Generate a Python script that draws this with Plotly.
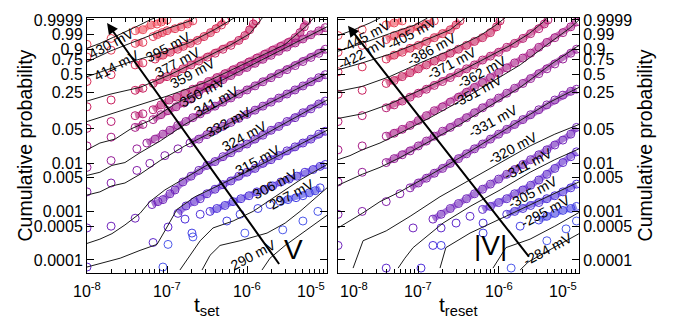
import numpy as np
import plotly.graph_objects as go

# ---------------- LEFT PANEL: t_set (s) vs cumulative probability ----------------
set_labels = ["430 mV", "414 mV", "395 mV", "377 mV", "359 mV", "350 mV", "341 mV",
              "332 mV", "324 mV", "315 mV", "306 mV", "297 mV", "290 mV"]

set430_t = [1e-8, 2e-8, 4e-8, 5e-8, 6.3e-8, 7.5e-8, 8.5e-8, 1e-7]
set430_p = [0.944, 0.978, 0.996, 0.9969, 0.9993, 0.9995, 0.99977, 0.9999]
set430_fit_t = [1e-8, 1.45e-8, 2.24e-8, 3.5e-8, 4.6e-8, 6.1e-8, 7e-8]
set430_fit_p = [0.908, 0.951, 0.9846, 0.9969, 0.9993, 0.9999, 0.99996]

set414_t = [1e-8, 2e-8, 4e-8, 5e-8, 6.7e-8, 7.6e-8, 8.7e-8, 1e-7, 1.26e-7, 1.5e-7, 1.8e-7, 2.1e-7]
set414_p = [0.792, 0.887, 0.951, 0.9575, 0.9846, 0.9898, 0.9935, 0.996, 0.9977, 0.9987, 0.9995, 0.99985]
set414_fit_t = [1e-8, 1.94e-8, 3.45e-8, 6.1e-8, 1.09e-7, 1.94e-7, 2.2e-7]
set414_fit_p = [0.712, 0.875, 0.951, 0.9875, 0.9983, 0.99985, 0.99996]

set395_t = [1e-8, 2e-8, 4e-8, 5e-8, 7.1e-8, 8.9e-8, 1.1e-7, 1.36e-7, 1.6e-7, 1.96e-7, 2.4e-7, 2.9e-7,
            3.5e-7, 4.1e-7, 4.8e-7, 5.3e-7]
set395_p = [0.388, 0.493, 0.661, 0.696, 0.761, 0.821, 0.862, 0.898, 0.927, 0.951, 0.969, 0.9846,
            0.9935, 0.9977, 0.9993, 0.99985]
set395_fit_t = [1e-8, 1.94e-8, 3.45e-8, 8.2e-8, 1.94e-7, 3.9e-7, 6.9e-7]
set395_fit_p = [0.462, 0.593, 0.712, 0.849, 0.9575, 0.9969, 0.99996]

set377_t = [1e-8, 2e-8, 4e-8, 5e-8, 6.7e-8, 8.1e-8, 1e-7, 1.26e-7, 1.58e-7, 2e-7, 2.5e-7, 3.2e-7,
            4e-7, 5e-7, 6.3e-7, 7.9e-7, 9.4e-7, 1.08e-6, 1.2e-6, 1.3e-6]
set377_p = [0.137, 0.184, 0.276, 0.299, 0.361, 0.417, 0.462, 0.526, 0.593, 0.661, 0.728, 0.792,
            0.849, 0.898, 0.936, 0.969, 0.9875, 0.9969, 0.9995, 0.99985]
set377_fit_t = [1e-8, 1.94e-8, 4.6e-8, 1.09e-7, 2.6e-7, 6.1e-7, 1.09e-6, 1.55e-6]
set377_fit_p = [0.176, 0.235, 0.31, 0.493, 0.745, 0.936, 0.9918, 0.99996]

set359_t = [1e-8, 2e-8, 4e-8, 5e-8, 6.7e-8, 8.4e-8, 1.06e-7, 1.33e-7, 1.67e-7, 2.1e-7, 2.65e-7, 3.3e-7,
            4.2e-7, 5.3e-7, 6.7e-7, 8.4e-7, 1.06e-6, 1.33e-6, 1.67e-6, 2.1e-6, 2.65e-6, 3.3e-6,
            4.0e-6, 4.6e-6, 5.2e-6, 5.6e-6]
set359_p = [0.0514, 0.0704, 0.092, 0.100, 0.120, 0.149, 0.184, 0.208, 0.245, 0.288, 0.335, 0.388,
            0.447, 0.51, 0.576, 0.644, 0.712, 0.777, 0.835, 0.887, 0.927, 0.9575,
            0.981, 0.9935, 0.9987, 0.99985]
set359_fit_t = [1e-8, 3.45e-8, 1e-7, 3e-7, 1e-6, 3e-6, 5.6e-6, 6.8e-6]
set359_fit_p = [0.0704, 0.131, 0.217, 0.374, 0.696, 0.944, 0.9991, 0.99996]

set350_t = [1e-8, 2e-8, 4e-8, 5e-8, 6.7e-8, 8.4e-8, 1.03e-7, 1.3e-7, 1.63e-7, 2e-7,
            2.5e-7, 3.16e-7, 3.98e-7, 5e-7, 6.3e-7, 7.9e-7, 1e-6, 1.26e-6, 1.58e-6, 2e-6,
            2.5e-6, 3.16e-6, 4e-6, 5e-6, 6.3e-6, 7.9e-6, 9.5e-6]
set350_p = [0.0226, 0.0341, 0.0537, 0.0615, 0.077, 0.096, 0.115, 0.137, 0.162, 0.192,
            0.259, 0.306, 0.357, 0.416, 0.479, 0.547, 0.617, 0.689, 0.757, 0.819,
            0.875, 0.92, 0.954, 0.976, 0.9893, 0.9958, 0.9983]
set350_fit_t = [1e-8, 1.45e-8, 2.24e-8, 3.45e-8, 6.1e-8, 1.26e-7, 2.6e-7, 5.3e-7, 1.09e-6, 2.24e-6, 4.6e-6, 1e-5]
set350_fit_p = [0.0188, 0.0259, 0.0311, 0.0491, 0.0737, 0.155, 0.265, 0.432, 0.644, 0.849, 0.969, 0.9987]

set341_t = [1e-8, 2e-8, 4.2e-8, 5.6e-8, 7.1e-8, 8.9e-8, 1.09e-7, 1.36e-7, 1.72e-7, 2.1e-7, 2.6e-7, 3.16e-7,
            3.98e-7, 5e-7, 6.3e-7, 7.9e-7, 1e-6, 1.26e-6, 1.58e-6, 2e-6, 2.5e-6, 3.16e-6, 4e-6,
            5e-6, 6.3e-6, 7.9e-6, 9.5e-6]
set341_p = [0.0082, 0.0113, 0.0197, 0.0259, 0.0311, 0.0392, 0.047, 0.0588, 0.0704, 0.084, 0.100, 0.120,
            0.141, 0.168, 0.201, 0.237, 0.280, 0.329, 0.384, 0.445, 0.51, 0.579, 0.65,
            0.72, 0.787, 0.847, 0.898]
set341_fit_t = [1e-8, 1.45e-8, 2.05e-8, 2.98e-8, 4.6e-8, 8.2e-8, 1.67e-7, 3.45e-7, 8.2e-7, 1.94e-6, 4.6e-6, 1e-5]
set341_fit_p = [0.0056, 0.0065, 0.009, 0.0103, 0.0164, 0.0284, 0.0615, 0.120, 0.245, 0.447, 0.712, 0.898]

set332_t = [1e-8, 2e-8, 4.2e-8, 6.1e-8, 9.4e-8, 1.37e-7, 1.94e-7, 2.5e-7,
            3.16e-7, 3.98e-7, 5e-7, 6.3e-7, 7.9e-7, 1e-6, 1.26e-6, 1.58e-6, 2e-6, 2.5e-6,
            3.16e-6, 3.98e-6, 5e-6, 6.3e-6, 7.9e-6, 9.5e-6]
set332_p = [0.00256, 0.0039, 0.0071, 0.0099, 0.0143, 0.0197, 0.0259, 0.0311,
            0.0384, 0.0465, 0.0562, 0.0675, 0.0813, 0.0975, 0.118, 0.141, 0.168, 0.20,
            0.237, 0.28, 0.328, 0.384, 0.445, 0.493]
set332_fit_t = [1e-8, 1.45e-8, 2.05e-8, 2.98e-8, 4.6e-8, 8.2e-8, 1.67e-7, 3.45e-7, 8.2e-7, 1.94e-6, 4.6e-6, 1e-5]
set332_fit_p = [0.0022, 0.00256, 0.0034, 0.0039, 0.0059, 0.0113, 0.0226, 0.0409, 0.084, 0.162, 0.31, 0.51]

set324_t = [1e-8, 2e-8, 4e-8, 6.5e-8, 7.7e-8, 8.9e-8, 1.09e-7, 1.26e-7, 1.58e-7, 2e-7, 2.5e-7, 3.16e-7,
            3.98e-7, 5e-7, 6.3e-7, 7.9e-7, 1e-6, 1.26e-6, 1.58e-6, 2e-6, 2.5e-6, 3.16e-6, 3.98e-6,
            5e-6, 6.3e-6, 7.9e-6, 9.5e-6]
set324_p = [0.00046, 0.0005, 0.00073, 0.0014, 0.00161, 0.00177, 0.00234, 0.0028, 0.0041, 0.0054, 0.0071,
            0.009, 0.0108, 0.0136, 0.0164, 0.0206, 0.0247, 0.0311, 0.0374, 0.047, 0.0562, 0.0704,
            0.084, 0.105, 0.125, 0.155, 0.176]
set324_fit_t = [1e-8, 1.45e-8, 2.05e-8, 2.98e-8, 4.6e-8, 6.1e-8, 9.4e-8, 1.67e-7, 3.45e-7, 8.2e-7, 1.94e-6, 4.6e-6, 1e-5]
set324_fit_p = [0.00022, 0.00027, 0.00035, 0.00053, 0.00092, 0.00161, 0.0028, 0.0049, 0.0099, 0.0206, 0.0449, 0.096, 0.184]

set315_t = [1e-8, 6.7e-8, 1.03e-7, 1.37e-7, 1.73e-7, 2.2e-7, 2.6e-7, 3.16e-7, 3.98e-7, 5e-7, 6.3e-7,
            7.9e-7, 1e-6, 1.26e-6, 1.58e-6, 2e-6, 2.5e-6, 3.16e-6, 3.98e-6, 5e-6, 6.3e-6, 7.9e-6, 9.5e-6]
set315_p = [0.0000715, 0.00023, 0.00048, 0.00092, 0.00131, 0.00161, 0.00185, 0.00234, 0.0029, 0.0036, 0.0043,
            0.0054, 0.0065, 0.0078, 0.0099, 0.0118, 0.0143, 0.0179, 0.0216, 0.0259, 0.0311, 0.0392, 0.0449]
set315_fit_t = [1e-8, 2.6e-8, 4.6e-8, 7.5e-8, 9.4e-8, 1.33e-7, 2.24e-7, 4.6e-7, 1.09e-6, 2.6e-6, 5.3e-6, 1e-5]
set315_fit_p = [0.0000715, 0.000109, 0.000158, 0.00021, 0.0004, 0.00111, 0.00203, 0.0036, 0.0071, 0.0149, 0.0271, 0.047]

set306_t = [1.68e-7, 2.6e-7, 3.45e-7, 4.2e-7, 5.3e-7, 6.7e-7, 8.4e-7, 1.06e-6, 1.33e-6, 1.67e-6, 2.1e-6,
            2.65e-6, 3.35e-6, 4.2e-6, 5.3e-6, 6.7e-6, 8.2e-6, 9.5e-6]
set306_p = [0.0007, 0.00088, 0.00101, 0.00116, 0.00134, 0.00161, 0.00185, 0.00213, 0.00256, 0.0029, 0.0034,
            0.0041, 0.0047, 0.0054, 0.0065, 0.0074, 0.0086, 0.0094]
set306_fit_t = [1.45e-7, 1.94e-7, 2.6e-7, 3.76e-7, 6.7e-7, 1.19e-6, 2.24e-6, 4.6e-6, 1e-5]
set306_fit_p = [0.000062, 0.000125, 0.00025, 0.00046, 0.00064, 0.00101, 0.00203, 0.0045, 0.0094]

set297_t = [2.05e-7, 5.6e-7, 8.2e-7, 1.37e-6, 1.94e-6, 2.6e-6, 3.25e-6, 4.1e-6, 5e-6, 6e-6, 7.1e-6, 8.2e-6]
set297_p = [0.00036, 0.00064, 0.00088, 0.00116, 0.0014, 0.00161, 0.00177, 0.00194, 0.00213, 0.00245, 0.0027, 0.0031]
set297_fit_t = [2.74e-7, 3.45e-7, 4.6e-7, 8.2e-7, 1.78e-6, 3e-6, 4.6e-6, 1e-5]
set297_fit_p = [0.000062, 0.000125, 0.0002, 0.00025, 0.00036, 0.00058, 0.00101, 0.0031]

set290_t = [8.9e-8, 1.03e-7, 2.11e-7, 9.4e-7, 2.8e-6, 5e-6, 7.7e-6]
set290_p = [0.0000715, 0.00021, 0.0003, 0.00036, 0.00042, 0.00064, 0.00101]
set290_fit_t = [1.54e-6, 1.94e-6, 3e-6, 5.3e-6, 1e-5]
set290_fit_p = [0.000062, 0.000109, 0.0002, 0.0004, 0.00084]

set_label_t = [2.05e-8, 2.37e-8, 1.03e-7, 1.37e-7, 2.11e-7, 2.74e-7, 4.2e-7, 5.8e-7, 9.4e-7, 1.37e-6,
               2.24e-6, 3.65e-6, 1.19e-6]
set_label_p = [0.951, 0.661, 0.918, 0.712, 0.526, 0.255, 0.176, 0.0704, 0.0357, 0.0118,
               0.0037, 0.00234, 0.000125]

# ---------------- RIGHT PANEL: t_reset (s) ----------------
reset_labels = ["-445 mV", "-422 mV", "-405 mV", "-386 mV", "-371 mV", "-362 mV", "-351 mV",
                "-331 mV", "-320 mV", "-311 mV", "-305 mV", "-295 mV", "-284 mV"]

reset445_t = [1e-8, 2e-8, 3.98e-8, 5e-8, 6.3e-8]
reset445_p = [0.9875, 0.9969, 0.9993, 0.99966, 0.99985]
reset445_fit_t = [1e-8, 1.58e-8, 2.5e-8, 3.35e-8]
reset445_fit_p = [0.9875, 0.9969, 0.99966, 0.99996]

reset422_t = [1e-8, 2e-8, 3.98e-8, 5e-8, 6.3e-8, 7.9e-8, 1e-7, 1.26e-7, 1.58e-7]
reset422_p = [0.862, 0.936, 0.9735, 0.9875, 0.9935, 0.9969, 0.9987, 0.9995, 0.99985]
reset422_fit_t = [1e-8, 2e-8, 4.4e-8, 9.1e-8, 1.3e-7]
reset422_fit_p = [0.875, 0.951, 0.9918, 0.9993, 0.99996]

reset405_t = [1e-8, 2e-8, 3.98e-8, 5e-8, 6.3e-8, 7.9e-8, 1e-7, 1.26e-7, 1.58e-7, 2e-7, 2.5e-7, 2.95e-7, 3.3e-7]
reset405_p = [0.543, 0.627, 0.761, 0.821, 0.862, 0.908, 0.936, 0.9635, 0.981, 0.9918, 0.9969, 0.9993, 0.99985]
reset405_fit_t = [1e-8, 2e-8, 4.4e-8, 1.05e-7, 2.5e-7, 3.8e-7]
reset405_fit_p = [0.576, 0.696, 0.835, 0.9575, 0.9969, 0.99996]

reset386_t = [1e-8, 2e-8, 3.98e-8, 5e-8, 6.3e-8, 7.9e-8, 1e-7, 1.26e-7, 1.58e-7, 2e-7, 2.5e-7, 3.16e-7,
              3.98e-7, 5e-7, 6.3e-7, 7.9e-7, 9.4e-7, 1.04e-6]
reset386_p = [0.235, 0.276, 0.361, 0.402, 0.462, 0.526, 0.593, 0.661, 0.728, 0.792, 0.849, 0.898,
              0.936, 0.9635, 0.981, 0.9935, 0.9987, 0.99985]
reset386_fit_t = [1e-8, 2e-8, 4.4e-8, 1.05e-7, 2.5e-7, 5.9e-7, 9e-7, 1.2e-6]
reset386_fit_p = [0.265, 0.322, 0.462, 0.696, 0.887, 0.9875, 0.9991, 0.99996]

reset371_t = [1e-8, 2e-8, 3.98e-8, 5e-8, 6.3e-8, 7.9e-8, 1e-7, 1.26e-7, 1.58e-7, 2e-7, 2.5e-7, 3.16e-7,
              3.98e-7, 5e-7, 6.3e-7, 7.9e-7, 1e-6, 1.26e-6, 1.58e-6, 2e-6, 2.5e-6, 3.16e-6, 3.7e-6, 4.1e-6]
reset371_p = [0.0704, 0.092, 0.131, 0.149, 0.176, 0.208, 0.245, 0.288, 0.335, 0.388, 0.447, 0.526,
              0.593, 0.661, 0.745, 0.807, 0.862, 0.918, 0.951, 0.978, 0.9918, 0.9977, 0.9995, 0.9999]
reset371_fit_t = [1e-8, 2e-8, 4.4e-8, 1.05e-7, 2.5e-7, 5.9e-7, 1.4e-6, 2.4e-6, 3.6e-6, 3.95e-6]
reset371_fit_p = [0.081, 0.100, 0.155, 0.276, 0.462, 0.728, 0.936, 0.9918, 0.99977, 0.99996]

reset362_t = [1e-8, 2e-8, 3.98e-8, 5e-8, 6.3e-8, 7.9e-8, 1e-7, 1.26e-7, 1.58e-7, 2e-7, 2.5e-7, 3.16e-7,
              3.98e-7, 5e-7, 6.3e-7, 7.9e-7, 1e-6, 1.26e-6, 1.58e-6, 2e-6, 2.5e-6, 3.16e-6, 3.98e-6,
              5e-6, 6.3e-6, 7.9e-6, 9.3e-6]
reset362_p = [0.0188, 0.0226, 0.0357, 0.0409, 0.0491, 0.0588, 0.0737, 0.092, 0.115, 0.137, 0.169, 0.208,
              0.255, 0.31, 0.374, 0.447, 0.526, 0.61, 0.696, 0.777, 0.849, 0.918, 0.9575,
              0.981, 0.9935, 0.9987, 0.99977]
reset362_fit_t = [1e-8, 1.41e-8, 2e-8, 3.33e-8, 5.9e-8, 1.4e-7, 3.3e-7, 7.8e-7, 1.85e-6, 4.37e-6, 7.8e-6, 1e-5]
reset362_fit_p = [0.0118, 0.0143, 0.0188, 0.0259, 0.0409, 0.084, 0.176, 0.361, 0.661, 0.9575, 0.9983, 0.9999]

reset351_t = [1e-8, 2e-8, 3.98e-8, 5e-8, 6.3e-8, 7.9e-8, 1e-7, 1.26e-7, 1.58e-7, 2e-7, 2.5e-7, 3.16e-7,
              3.98e-7, 5e-7, 6.3e-7, 7.9e-7, 1e-6, 1.26e-6, 1.58e-6, 2e-6, 2.5e-6, 3.16e-6, 3.98e-6,
              5e-6, 6.3e-6, 7.9e-6, 9.3e-6]
reset351_p = [0.0041, 0.0065, 0.0103, 0.0124, 0.0149, 0.0179, 0.0226, 0.0284, 0.0357, 0.0449, 0.0537, 0.0673,
              0.084, 0.105, 0.131, 0.162, 0.20, 0.245, 0.299, 0.361, 0.432, 0.51, 0.593,
              0.678, 0.761, 0.849, 0.898]
reset351_fit_t = [1e-8, 1.41e-8, 2e-8, 3.33e-8, 5.9e-8, 1.4e-7, 3.3e-7, 7.8e-7, 1.85e-6, 4.37e-6, 1e-5]
reset351_fit_p = [0.0035, 0.0045, 0.0059, 0.0082, 0.013, 0.0284, 0.0615, 0.143, 0.31, 0.661, 0.936]

reset331_t = [1e-8, 2e-8, 3.98e-8, 5.9e-8, 7.9e-8, 1e-7, 1.26e-7, 1.58e-7, 2e-7, 2.5e-7, 3.16e-7, 3.98e-7,
              5e-7, 6.3e-7, 7.9e-7, 1e-6, 1.26e-6, 1.58e-6, 2e-6, 2.5e-6, 3.16e-6, 3.98e-6, 5e-6,
              6.3e-6, 7.9e-6, 9.3e-6]
reset331_p = [0.00088, 0.00101, 0.00161, 0.00234, 0.0031, 0.0039, 0.0049, 0.0062, 0.0078, 0.0099, 0.0124, 0.0156,
              0.0197, 0.0247, 0.0311, 0.0392, 0.0491, 0.0615, 0.077, 0.096, 0.120, 0.149, 0.184,
              0.226, 0.265, 0.288]
reset331_fit_t = [1e-8, 1.41e-8, 2e-8, 3.33e-8, 5.9e-8, 1.4e-7, 3.3e-7, 7.8e-7, 1.85e-6, 4.37e-6, 1e-5]
reset331_fit_p = [0.00046, 0.00064, 0.00092, 0.00161, 0.00256, 0.0057, 0.013, 0.0311, 0.0737, 0.169, 0.31]

reset320_t = [1e-8, 8.6e-8, 1.52e-7, 1.92e-7, 2.5e-7, 3.16e-7, 3.98e-7, 5e-7, 6.3e-7, 7.9e-7, 1e-6,
              1.26e-6, 1.58e-6, 2e-6, 2.5e-6, 3.16e-6, 3.98e-6, 5e-6, 6.3e-6, 7.9e-6, 9.3e-6]
reset320_p = [0.0002, 0.00046, 0.0007, 0.00088, 0.00116, 0.00147, 0.00185, 0.00234, 0.0029, 0.0037, 0.0047,
              0.0059, 0.0074, 0.0094, 0.0118, 0.0149, 0.0188, 0.0236, 0.0297, 0.0392, 0.0537]
reset320_fit_t = [1.54e-8, 1.77e-8, 2.05e-8, 3.98e-8, 7.9e-8, 1.86e-7, 4.4e-7, 1.04e-6, 2.46e-6, 5e-6, 1e-5]
reset320_fit_p = [0.000068, 0.000125, 0.00025, 0.0004, 0.0008, 0.00203, 0.0045, 0.0103, 0.0226, 0.0392, 0.0615]

reset311_t = [3.98e-8, 1.92e-7, 2.95e-7, 4.4e-7, 6.3e-7, 7.9e-7, 1e-6, 1.26e-6, 1.58e-6, 2e-6, 2.5e-6,
              3.16e-6, 3.98e-6, 5e-6, 6.3e-6, 7.9e-6, 9.3e-6]
reset311_p = [0.000068, 0.00046, 0.00058, 0.0008, 0.00111, 0.00128, 0.00154, 0.00185, 0.00234, 0.0028, 0.0035,
              0.0045, 0.0059, 0.0078, 0.0103, 0.0136, 0.0171]
reset311_fit_t = [5.6e-8, 6.8e-8, 8.6e-8, 2.03e-7, 4.4e-7, 1.04e-6, 2.46e-6, 5e-6, 1e-5]
reset311_fit_p = [0.000068, 0.000109, 0.00018, 0.00058, 0.00128, 0.0028, 0.0065, 0.0118, 0.0197]

reset305_t = [1.08e-7, 1.52e-7, 6.4e-7, 1.26e-6, 1.58e-6, 2e-6, 2.5e-6, 3.16e-6, 3.98e-6, 5e-6, 6.3e-6,
              7.9e-6, 9.3e-6]
reset305_p = [0.000068, 0.0002, 0.00058, 0.00088, 0.00101, 0.00116, 0.00134, 0.00154, 0.00185, 0.00213, 0.00256,
              0.0031, 0.0037]
reset305_fit_t = [1.86e-7, 2.2e-7, 4.4e-7, 1.04e-6, 2.46e-6, 5e-6, 1e-5]
reset305_fit_p = [0.000068, 0.00018, 0.00036, 0.0007, 0.0014, 0.00234, 0.0041]

reset295_t = [1.92e-7, 6.4e-7, 1.85e-6, 3.16e-6, 3.98e-6, 5e-6, 6.3e-6, 7.9e-6, 9.3e-6]
reset295_p = [0.0002, 0.00036, 0.0005, 0.00067, 0.0008, 0.00092, 0.00106, 0.00116, 0.00128]
reset295_fit_t = [8.5e-7, 1.23e-6, 2.46e-6, 5e-6, 1e-5]
reset295_fit_p = [0.000068, 0.00018, 0.00027, 0.0005, 0.00096]

reset284_t = [1.43e-6, 3.98e-6, 6.9e-6, 9.3e-6]
reset284_p = [0.000068, 0.00025, 0.00044, 0.00064]
reset284_fit_t = [1.85e-6, 2.32e-6, 3.8e-6, 6.9e-6, 1e-5]
reset284_fit_p = [0.000062, 0.00009, 0.000144, 0.00025, 0.00035]

reset_label_t = [2.23e-8, 2.05e-8, 8.4e-8, 1.48e-7, 2.63e-7, 6.2e-7, 5.5e-7, 8.5e-7, 1.51e-6, 2.32e-6,
                 2.68e-6, 3.9e-6, 4.1e-6]
reset_label_p = [0.9875, 0.849, 0.9935, 0.898, 0.696, 0.543, 0.265, 0.0737, 0.0206, 0.0094,
                 0.00256, 0.00101, 0.00017]

# axis ticks
prob_ticks = [0.0001, 0.0005, 0.001, 0.005, 0.01, 0.05, 0.25, 0.5, 0.75, 0.9, 0.99, 0.9999]
prob_tick_text = ["0.0001", "0.0005", "0.001", "0.005", "0.01", "0.05", "0.25", "0.5", "0.75", "0.9",
                  "0.99", "0.9999"]
time_decades = [1e-8, 1e-7, 1e-6, 1e-5]
time_decade_text = ["10<sup>-8</sup>", "10<sup>-7</sup>", "10<sup>-6</sup>", "10<sup>-5</sup>"]

# ---------------- styling ----------------
colors = ["#ee4a5a", "#e43c58", "#d82c56", "#c8205e", "#b81c72", "#a81c86", "#961e98",
          "#8420aa", "#7024bc", "#5e28cc", "#4e30da", "#4440e4", "#4c58ea"]
FONT = "Liberation Sans, Arial, Helvetica, sans-serif"


def weib(p):
    p = np.asarray(p, dtype=float)
    return np.log(-np.log1p(-p))


set_series = [
    (set430_t, set430_p, set430_fit_t, set430_fit_p), (set414_t, set414_p, set414_fit_t, set414_fit_p),
    (set395_t, set395_p, set395_fit_t, set395_fit_p), (set377_t, set377_p, set377_fit_t, set377_fit_p),
    (set359_t, set359_p, set359_fit_t, set359_fit_p), (set350_t, set350_p, set350_fit_t, set350_fit_p),
    (set341_t, set341_p, set341_fit_t, set341_fit_p), (set332_t, set332_p, set332_fit_t, set332_fit_p),
    (set324_t, set324_p, set324_fit_t, set324_fit_p), (set315_t, set315_p, set315_fit_t, set315_fit_p),
    (set306_t, set306_p, set306_fit_t, set306_fit_p), (set297_t, set297_p, set297_fit_t, set297_fit_p),
    (set290_t, set290_p, set290_fit_t, set290_fit_p)]
reset_series = [
    (reset445_t, reset445_p, reset445_fit_t, reset445_fit_p), (reset422_t, reset422_p, reset422_fit_t, reset422_fit_p),
    (reset405_t, reset405_p, reset405_fit_t, reset405_fit_p), (reset386_t, reset386_p, reset386_fit_t, reset386_fit_p),
    (reset371_t, reset371_p, reset371_fit_t, reset371_fit_p), (reset362_t, reset362_p, reset362_fit_t, reset362_fit_p),
    (reset351_t, reset351_p, reset351_fit_t, reset351_fit_p), (reset331_t, reset331_p, reset331_fit_t, reset331_fit_p),
    (reset320_t, reset320_p, reset320_fit_t, reset320_fit_p), (reset311_t, reset311_p, reset311_fit_t, reset311_fit_p),
    (reset305_t, reset305_p, reset305_fit_t, reset305_fit_p), (reset295_t, reset295_p, reset295_fit_t, reset295_fit_p),
    (reset284_t, reset284_p, reset284_fit_t, reset284_fit_p)]


def band(t, w):
    """Join only the densely packed measured points into a continuous stroke."""
    xs, ys = [], []
    lt = np.log10(t)
    for i in range(len(t)):
        if i > 0 and (lt[i] - lt[i - 1] > 0.115 or abs(w[i] - w[i - 1]) > 0.45):
            xs.append(None)
            ys.append(None)
        xs.append(t[i])
        ys.append(w[i])
    return xs, ys


fig = go.Figure()
for series, xa, ya in [(set_series, "x", "y"), (reset_series, "x2", "y2")]:
    for (t, p, ft, fp), col in zip(series, colors):
        w = weib(p)
        bx, by = band(t, w)
        fig.add_trace(go.Scatter(x=bx, y=by, mode="lines", xaxis=xa, yaxis=ya,
                                 line=dict(color=col, width=6), opacity=0.6, hoverinfo="skip"))
        fig.add_trace(go.Scatter(x=t, y=w, mode="markers", xaxis=xa, yaxis=ya,
                                 marker=dict(symbol="circle-open", size=8, color=col,
                                             line=dict(width=1, color=col))))
    for (t, p, ft, fp), col in zip(series, colors):
        fig.add_trace(go.Scatter(x=ft, y=weib(fp), mode="lines", xaxis=xa, yaxis=ya,
                                 line=dict(color="#1a1a1a", width=1)))

yr = [-9.83, 2.313]
minor_vals = [m * 10.0 ** e for e in range(-8, -5) for m in range(2, 10)]
xcommon = dict(type="log", range=[-8, -5], showticklabels=False, ticks="inside", ticklen=7,
               tickvals=time_decades, tickcolor="black", showline=True, linecolor="black", linewidth=1,
               mirror="ticks", showgrid=False, zeroline=False,
               minor=dict(tickvals=minor_vals, ticks="inside", ticklen=4, tickcolor="black", showgrid=False))
ycommon = dict(range=yr, tickvals=list(weib(prob_ticks)), ticktext=prob_tick_text, ticks="inside",
               ticklen=7, tickcolor="black", showline=True, linecolor="black", linewidth=1,
               mirror="ticks", showgrid=False, zeroline=False,
               tickfont=dict(size=16, family=FONT, color="black"))

fig.update_layout(
    width=673, height=327, margin=dict(l=87, r=94, t=12, b=54),
    plot_bgcolor="white", paper_bgcolor="white", showlegend=False,
    font=dict(family=FONT, color="black"),
    xaxis=dict(domain=[0, 0.4878], anchor="y", **xcommon),
    yaxis=dict(anchor="x", side="left", **ycommon),
    xaxis2=dict(domain=[0.5102, 1.0], anchor="y2", **xcommon),
    yaxis2=dict(anchor="x2", side="right", **ycommon),
)

ann = []
# x tick labels (end labels kept inside each panel)
for xa, anchors in [("x", ["center", "center", "center", "right"]), ("x2", ["left", "center", "center", "right"])]:
    for v, txt, anc in zip(time_decades, time_decade_text, anchors):
        ann.append(dict(x=np.log10(v), y=0, xref=xa, yref="paper", text=txt, showarrow=False,
                        xanchor=anc, yanchor="top", yshift=-5, font=dict(size=16, family=FONT)))
# axis titles
ann.append(dict(x=0.2439, y=0, xref="paper", yref="paper", text="t<sub>set</sub>", showarrow=False,
                xanchor="center", yanchor="top", yshift=-18, font=dict(size=21, family=FONT)))
ann.append(dict(x=0.7551, y=0, xref="paper", yref="paper", text="t<sub>reset</sub>", showarrow=False,
                xanchor="center", yanchor="top", yshift=-18, font=dict(size=21, family=FONT)))
ann.append(dict(x=-0.128, y=0.5, xref="paper", yref="paper", text="Cumulative probability", showarrow=False,
                xanchor="center", yanchor="middle", textangle=-90, font=dict(size=19.5, family=FONT)))
ann.append(dict(x=1.134, y=0.5, xref="paper", yref="paper", text="Cumulative probability", showarrow=False,
                xanchor="center", yanchor="middle", textangle=-90, font=dict(size=19.5, family=FONT)))
# series labels
for labels, lt, lp, xa, ya in [(set_labels, set_label_t, set_label_p, "x", "y"),
                               (reset_labels, reset_label_t, reset_label_p, "x2", "y2")]:
    for txt, t, p in zip(labels, lt, lp):
        ann.append(dict(x=np.log10(t), y=float(weib(p)), xref=xa, yref=ya, text=txt, showarrow=False,
                        textangle=-28, font=dict(size=14, family=FONT)))
# big arrows
ann.append(dict(x=np.log10(1.78e-8), y=float(weib(0.99966)), ax=np.log10(2.6e-6), ay=float(weib(0.000077)),
                xref="x", yref="y", axref="x", ayref="y", text="", showarrow=True,
                arrowhead=2, arrowsize=1.1, arrowwidth=2, arrowcolor="black"))
ann.append(dict(x=np.log10(1.33e-8), y=float(weib(0.9991)), ax=np.log10(2.46e-6), ay=float(weib(0.000109)),
                xref="x2", yref="y2", axref="x2", ayref="y2", text="", showarrow=True,
                arrowhead=2, arrowsize=1.1, arrowwidth=2, arrowcolor="black"))
ann.append(dict(x=np.log10(3.76e-6), y=float(weib(0.000165)), xref="x", yref="y", text="V", showarrow=False,
                font=dict(size=28, family=FONT)))
ann.append(dict(x=np.log10(8.0e-7), y=float(weib(0.0002)), xref="x2", yref="y2", text="|V|", showarrow=False,
                font=dict(size=28, family=FONT)))
fig.update_layout(annotations=ann)

fig.write_html("out.html")
